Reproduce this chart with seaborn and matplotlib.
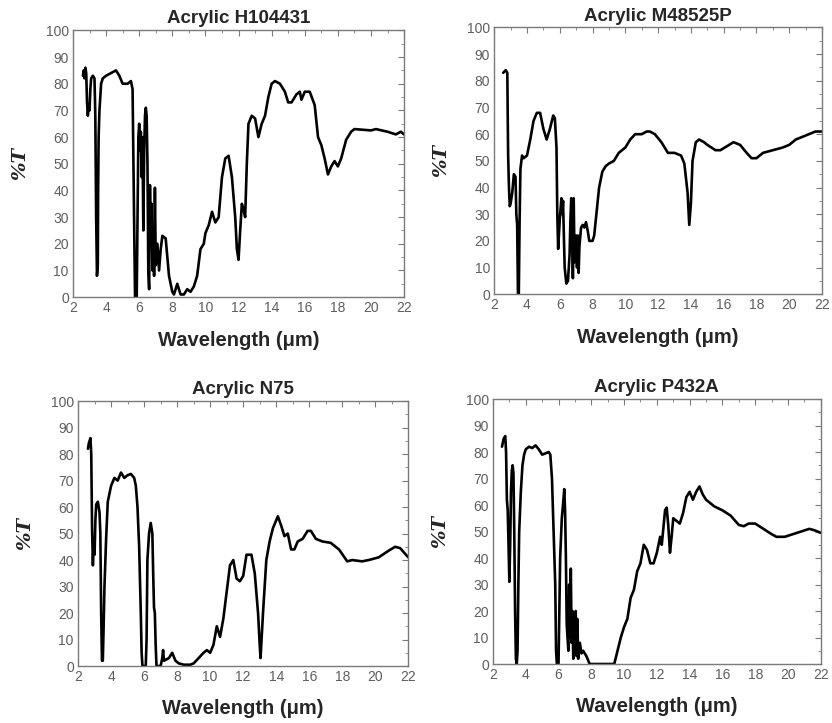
import matplotlib
matplotlib.use("Agg")
import matplotlib.pyplot as plt
import seaborn as sns
import pandas as pd
from matplotlib.ticker import MultipleLocator

# ---------------- data ----------------
titles = ["Acrylic H104431", "Acrylic M48525P", "Acrylic N75", "Acrylic P432A"]

h_wl = [2.6, 2.65, 2.7, 2.75, 2.8, 2.85, 2.9, 2.95, 3.0, 3.05, 3.1, 3.2, 3.3, 3.35, 3.4, 3.45, 3.5, 3.52, 3.55,
        3.6, 3.7, 3.8, 4.0, 4.3, 4.6, 4.8, 5.0, 5.3, 5.5, 5.6, 5.65, 5.7, 5.75, 5.85, 5.9, 5.95, 6.0, 6.05,
        6.1, 6.15, 6.2, 6.25, 6.3, 6.35, 6.4, 6.45, 6.5, 6.55, 6.6, 6.65, 6.7, 6.75, 6.8, 6.85, 6.9, 6.95,
        7.0, 7.1, 7.2, 7.3, 7.4, 7.6, 7.7, 7.8, 8.0, 8.1, 8.3, 8.5, 8.7, 8.9, 9.1, 9.3, 9.5, 9.7, 9.9, 10.0,
        10.2, 10.4, 10.6, 10.8, 11.0, 11.2, 11.4, 11.6, 11.8, 11.9, 12.0, 12.1, 12.2, 12.3, 12.4, 12.5, 12.6,
        12.8, 13.0, 13.2, 13.4, 13.6, 13.8, 14.0, 14.2, 14.5, 14.8, 15.0, 15.2, 15.5, 15.7, 15.8, 16.0, 16.3,
        16.6, 16.8, 17.0, 17.2, 17.4, 17.6, 17.8, 18.0, 18.2, 18.5, 18.8, 19.0, 20.0, 20.3, 21.0, 21.5, 21.8, 22.0]
h_t = [83, 85, 82, 86, 84, 73, 68, 72, 70, 78, 82, 83, 82, 68, 30, 8, 12, 40, 60,
       70, 80, 82, 83, 84, 85, 83, 80, 80, 81, 78, 50, 25, 0, 0, 30, 60, 65, 55,
       62, 45, 60, 25, 55, 68, 71, 68, 50, 10, 3, 42, 20, 35, 10, 25, 8, 41,
       12, 20, 10, 18, 23, 22, 15, 8, 2, 1, 5, 1, 1, 3, 2, 4, 8, 18, 20, 24,
       27, 32, 28, 30, 45, 52, 53, 45, 30, 18, 14, 25, 35, 33, 30, 50, 65,
       68, 67, 60, 65, 68, 75, 80, 81, 80, 77, 73, 73, 76, 77, 74, 77, 77,
       72, 60, 57, 52, 46, 49, 51, 49, 52, 59, 62, 63, 62.5, 63, 62, 61, 62, 61]

m_wl = [2.55, 2.7, 2.8, 2.82, 2.85, 2.9, 2.95, 3.0, 3.1, 3.2, 3.3, 3.35, 3.4, 3.45, 3.5, 3.55, 3.6, 3.7, 3.8,
        4.0, 4.2, 4.4, 4.6, 4.8, 5.0, 5.2, 5.4, 5.6, 5.7, 5.8, 5.85, 5.9, 6.0, 6.1, 6.15, 6.2, 6.25, 6.3,
        6.4, 6.5, 6.6, 6.65, 6.7, 6.75, 6.8, 6.85, 6.9, 7.0, 7.05, 7.1, 7.15, 7.2, 7.3, 7.4, 7.5, 7.6, 7.7,
        7.8, 8.0, 8.1, 8.2, 8.4, 8.6, 8.8, 9.0, 9.3, 9.6, 10.0, 10.3, 10.6, 11.0, 11.3, 11.5, 11.8, 12.2,
        12.6, 13.0, 13.4, 13.6, 13.8, 13.9, 14.0, 14.1, 14.3, 14.5, 14.8, 15.0, 15.5, 15.8, 16.2, 16.6,
        17.0, 17.4, 17.7, 18.0, 18.4, 19.0, 19.6, 20.0, 20.4, 21.0, 21.6, 22.0]
m_t = [83, 84, 83, 70, 52, 40, 33, 34, 38, 45, 44, 30, 26, 0, 0, 28, 47, 52, 51,
       52, 58, 65, 68, 68, 62, 58, 62, 67, 66, 55, 30, 17, 28, 36, 30, 35, 22, 10,
       4, 5, 15, 28, 36, 30, 6, 36, 12, 22, 10, 22, 8, 18, 25, 26, 25, 27, 24,
       20, 20, 22, 28, 40, 46, 48, 49, 50, 53, 55, 58, 60, 60, 61, 61, 60, 57,
       53, 53, 52, 49, 38, 26, 34, 50, 57, 58, 57, 56, 54, 54, 55.5, 57,
       56, 53, 51, 51, 53, 54, 55, 56, 58, 59.5, 61, 61]

n_wl = [2.6, 2.65, 2.7, 2.75, 2.8, 2.85, 2.9, 2.95, 3.0, 3.05, 3.1, 3.2, 3.3, 3.35, 3.4, 3.45, 3.5, 3.55, 3.6,
        3.7, 3.8, 4.0, 4.2, 4.4, 4.6, 4.8, 5.0, 5.2, 5.4, 5.5, 5.6, 5.7, 5.8, 5.85, 5.9, 6.1, 6.15, 6.2, 6.3,
        6.4, 6.5, 6.55, 6.6, 6.65, 6.7, 6.75, 7.0, 7.1, 7.15, 7.2, 7.5, 7.7, 7.9, 8.1, 8.4, 8.8, 9.0, 9.3,
        9.6, 9.8, 10.0, 10.2, 10.4, 10.6, 10.8, 11.0, 11.2, 11.4, 11.6, 11.8, 12.0, 12.2, 12.5, 12.7, 12.9,
        13.0, 13.05, 13.2, 13.4, 13.6, 13.8, 14.0, 14.1, 14.3, 14.5, 14.7, 14.9, 15.1, 15.3, 15.6, 15.9,
        16.1, 16.4, 16.8, 17.3, 17.8, 18.3, 18.6, 19.2, 19.6, 20.2, 20.8, 21.2, 21.5, 22.0]
n_t = [82, 84, 85, 86, 80, 52, 38, 48, 42, 55, 61, 62, 58, 50, 20, 2, 2, 15, 30,
       48, 62, 68, 71, 70, 73, 71, 72, 72.5, 71, 68, 60, 45, 20, 5, 0, 0, 10, 40, 50,
       54, 50, 35, 22, 20, 8, 0, 0, 3, 6, 2, 3, 5, 2, 1, 0.5, 0.5, 1, 3,
       5, 6, 5, 8, 15, 11, 18, 28, 38, 40, 33, 32, 34, 42, 42, 35, 20,
       8, 3, 20, 40, 47, 52, 55, 56.5, 53, 49, 50, 44, 44, 47, 48, 51,
       51, 48, 47, 46.5, 44, 39.5, 40, 39.5, 40, 41, 43.5, 45, 44.5, 41]

p_wl = [2.55, 2.65, 2.75, 2.8, 2.85, 2.9, 2.95, 3.0, 3.05, 3.1, 3.15, 3.2, 3.25, 3.3, 3.35, 3.4, 3.45, 3.5, 3.55,
        3.6, 3.7, 3.8, 3.9, 4.0, 4.2, 4.4, 4.6, 4.8, 5.0, 5.2, 5.4, 5.5, 5.6, 5.7, 5.8, 5.85, 5.9, 6.0, 6.05,
        6.1, 6.2, 6.3, 6.35, 6.4, 6.45, 6.5, 6.55, 6.6, 6.65, 6.7, 6.75, 6.8, 6.85, 6.9, 7.0, 7.05, 7.1,
        7.15, 7.2, 7.3, 7.4, 7.5, 7.7, 7.9, 8.5, 9.0, 9.4, 9.6, 9.8, 10.0, 10.2, 10.4, 10.6, 10.8, 11.0,
        11.2, 11.4, 11.6, 11.8, 12.0, 12.2, 12.3, 12.5, 12.6, 12.7, 12.8, 12.9, 13.0, 13.2, 13.4, 13.6,
        13.8, 14.0, 14.2, 14.4, 14.6, 14.8, 15.0, 15.5, 16.0, 16.5, 17.0, 17.3, 17.6, 18.0, 18.5, 19.0,
        19.3, 19.8, 20.3, 20.8, 21.3, 21.6, 22.0]
p_t = [82, 85, 86, 80, 62, 58, 45, 31, 45, 65, 73, 75, 72, 50, 20, 2, 0, 5, 30,
       50, 65, 75, 79, 81, 82, 81.5, 82.5, 81, 79, 79.5, 80, 79, 70, 50, 30, 5, 0, 0, 20,
       40, 55, 62, 66, 58, 40, 15, 10, 5, 30, 10, 36, 8, 20, 2, 10, 20, 3,
       17, 2, 8, 4, 5, 3, 0, 0, 0, 0, 5, 10, 14, 17, 25, 28, 35, 38,
       45, 43, 38, 38, 42, 48, 45, 58, 59, 52, 42, 48, 55, 54, 53, 57,
       63, 65, 62, 65, 67, 64, 62, 59.5, 58, 56, 52.5, 52, 53, 53, 51, 49,
       48, 48, 49, 50, 51, 50.5, 49.5]

x_ticks = [2, 4, 6, 8, 10, 12, 14, 16, 18, 20, 22]
y_ticks = [0, 10, 20, 30, 40, 50, 60, 70, 80, 90, 100]

# ---------------- plotting ----------------
sns.set_style("white")
plt.rcParams['font.family'] = ['Liberation Sans', 'DejaVu Sans']

fig = plt.figure(figsize=(8.32, 7.23), dpi=100)
positions = [
    [0.0877, 0.589, 0.398, 0.369],
    [0.594, 0.593, 0.394, 0.369],
    [0.0938, 0.0788, 0.397, 0.3665],
    [0.5925, 0.0816, 0.394, 0.3665],
]
series = [(h_wl, h_t), (m_wl, m_t), (n_wl, n_t), (p_wl, p_t)]
spine_col = "#7a7a7a"
tick_col = "#5e5e5e"

for pos, title, (wl, t) in zip(positions, titles, series):
    ax = fig.add_axes(pos)
    df = pd.DataFrame({"wl": wl, "T": t})
    sns.lineplot(data=df, x="wl", y="T", ax=ax, sort=False, estimator=None,
                 color="black", linewidth=1.9)
    ax.set_xlim(2, 22)
    ax.set_ylim(0, 100)
    ax.set_xticks(x_ticks)
    ax.set_yticks(y_ticks)
    ax.xaxis.set_minor_locator(MultipleLocator(1))
    ax.yaxis.set_minor_locator(MultipleLocator(5))
    ax.tick_params(which="both", direction="in", top=True, right=True,
                   colors=spine_col, labelcolor=tick_col, labelsize=10)
    ax.tick_params(which="major", length=4, width=0.8, pad=3)
    ax.tick_params(which="minor", length=2.5, width=0.6)
    for s in ax.spines.values():
        s.set_color(spine_col)
        s.set_linewidth(1.0)
    ax.set_title(title, fontsize=13.5, fontweight="bold", pad=5)
    ax.set_xlabel("Wavelength (\u03bcm)", fontsize=14.5, fontweight="bold", labelpad=11)
    ax.set_ylabel("%T", fontsize=14, fontweight="bold", fontstyle="italic",
                  family=["DejaVu Serif"], labelpad=12)

fig.savefig("out.png", dpi=100)
